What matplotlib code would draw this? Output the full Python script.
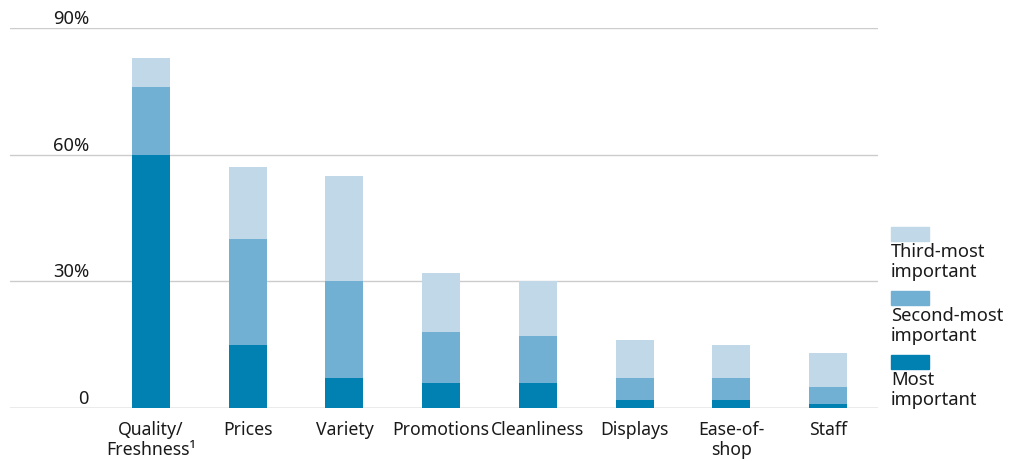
import matplotlib.pyplot as plt
import matplotlib.transforms as mtransforms
import numpy as np

plt.rcParams['font.family'] = ['Noto Sans', 'DejaVu Sans']

# Share of respondents (%) by rank
categories = ['Quality/\nFreshness\u00b9', 'Prices', 'Variety', 'Promotions',
              'Cleanliness', 'Displays', 'Ease-of-\nshop', 'Staff']
most = [60, 15, 7, 6, 6, 2, 2, 1]
second = [16, 25, 23, 12, 11, 5, 5, 4]
third = [7, 17, 25, 14, 13, 9, 8, 8]

series_labels = ['Most\nimportant', 'Second-most\nimportant', 'Third-most\nimportant']
colors = ['#0180b2', '#71b0d2', '#c1d8e8']
yticks = [0, 30, 60, 90]
ytick_labels = ['0', '30%', '60%', '90%']
fs = 13.2

fig = plt.figure(figsize=(10.13, 4.61), dpi=100)
ax = fig.add_axes([10 / 1013, 1 - 408 / 461, 868 / 1013, 380 / 461])

x = np.arange(len(categories))
w = 0.393
bottom = np.zeros(len(categories))
for vals, col in zip([most, second, third], colors):
    ax.bar(x, vals, w, bottom=bottom, color=col, zorder=3)
    bottom += np.array(vals)

ax.set_xlim(-1.458, 7.518)
ax.set_ylim(0, 90)

# gridlines with labels sitting just above them
lift = mtransforms.offset_copy(ax.get_yaxis_transform(), fig=fig, x=0, y=4, units='dots')
for t, lab in zip(yticks, ytick_labels):
    ax.axhline(t, color='#999999' if t == 0 else '#cccccc', lw=1.0, zorder=1)
    ax.text(79 / 868, t, lab, transform=lift, ha='right', va='baseline',
            fontsize=fs, color='#1a1a1a')

ax.set_xticks(x)
ax.set_xticklabels(categories, fontsize=12.7, color='#1a1a1a', linespacing=1.2)
ax.tick_params(axis='x', length=0, pad=9)
ax.set_yticks([])
for s in ax.spines.values():
    s.set_visible(False)

# legend drawn manually at right
leg_items = [(colors[2], series_labels[2], 227), (colors[1], series_labels[1], 291),
             (colors[0], series_labels[0], 355)]
for col, lab, ytop in leg_items:
    fig.patches.append(plt.Rectangle((891 / 1013, 1 - (ytop + 14) / 461), 38 / 1013, 14 / 461,
                                     transform=fig.transFigure, color=col))
    fig.text(891 / 1013, 1 - (ytop + 16) / 461, lab, ha='left', va='top',
             fontsize=fs, color='#1a1a1a', linespacing=1.15)

fig.savefig('out.png', dpi=100)
